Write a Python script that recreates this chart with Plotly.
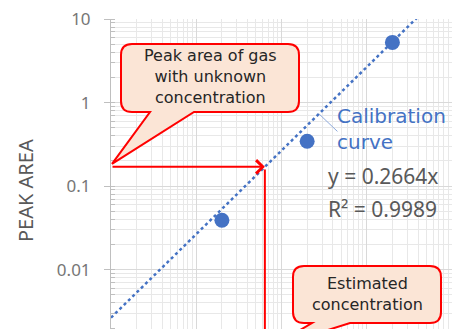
import math
import plotly.graph_objects as go

# Calibration standards (concentration vs. peak area)
concentration = [0.2, 2, 20]
peak_area = [0.039, 0.345, 5.25]

slope = 0.2664
r_squared = 0.9989

unknown_peak = 0.17
estimated_conc = unknown_peak / slope

y_tick_vals = [0.01, 0.1, 1, 10]
y_tick_text = ["0.01", "0.1", "1", "10"]

# Axis extents (log10)
x_range = [-2, 2]
y_range = [-2.71, 1]

# Figure geometry
W, H = 461, 329
M_L, M_R, M_T, M_B = 111, 9, 19, 0
PW, PH = W - M_L - M_R, H - M_T - M_B

RED = "#FF0000"
BLUE = "#4472C4"
FILL = "#FBE5D6"
FONT = "Noto Sans"
WIDE_FONT = "DejaVu Sans"


def px_to_paper(px, py):
    return (px - M_L) / PW, (H - M_B - py) / PH


def data_to_px(x, y):
    fx = (math.log10(x) - x_range[0]) / (x_range[1] - x_range[0])
    fy = (math.log10(y) - y_range[0]) / (y_range[1] - y_range[0])
    return M_L + fx * PW, H - M_B - fy * PH


def callout_path(x0, y0, x1, y1, r, b0, b1, tip):
    """Rounded box with a pointer leaving the bottom edge (pixel coords)."""
    pts = [
        ("M", [(x0 + r, y0)]),
        ("L", [(x1 - r, y0)]),
        ("Q", [(x1, y0), (x1, y0 + r)]),
        ("L", [(x1, y1 - r)]),
        ("Q", [(x1, y1), (x1 - r, y1)]),
        ("L", [(b1, y1)]),
        ("L", [tip]),
        ("L", [(b0, y1)]),
        ("L", [(x0 + r, y1)]),
        ("Q", [(x0, y1), (x0, y1 - r)]),
        ("L", [(x0, y0 + r)]),
        ("Q", [(x0, y0), (x0 + r, y0)]),
    ]
    out = []
    for cmd, coords in pts:
        s = " ".join("%.5f,%.5f" % px_to_paper(*c) for c in coords)
        out.append(cmd + s)
    return " ".join(out) + " Z"


fit_x = [10 ** x_range[0], 10 ** x_range[1]]
fit_y = [slope * v for v in fit_x]

fig = go.Figure()

# Trend line through the origin
fig.add_trace(go.Scatter(
    x=fit_x, y=fit_y, mode="lines",
    line=dict(color=BLUE, width=2.5, dash="dot"),
    hoverinfo="skip",
))

# Standards
fig.add_trace(go.Scatter(
    x=concentration, y=peak_area, mode="markers",
    marker=dict(color=BLUE, size=15),
))

# Drop line from the curve down to the concentration axis
fig.add_trace(go.Scatter(
    x=[estimated_conc, estimated_conc],
    y=[unknown_peak * 0.93, 10 ** (y_range[0] - 0.5)],
    mode="lines", line=dict(color=RED, width=2),
    hoverinfo="skip",
))

annotations = []

# Horizontal arrow from the axis to the curve
annotations.append(dict(
    x=math.log10(estimated_conc), y=math.log10(unknown_peak),
    ax=math.log10(10 ** x_range[0]), ay=math.log10(unknown_peak),
    xref="x", yref="y", axref="x", ayref="y",
    text="", showarrow=True, arrowhead=4, arrowsize=1.3,
    arrowwidth=2, arrowcolor=RED, standoff=0,
))

# Leader from the curve to its label
leader_x = 2.75
annotations.append(dict(
    x=math.log10(leader_x), y=math.log10(slope * leader_x),
    xref="x", yref="y", ax=20, ay=19,
    text="", showarrow=True, arrowhead=0, arrowwidth=1,
    arrowcolor="#8FAADC",
))


def label(text, px, py, size, color, xanchor="center", family=FONT):
    x, y = px_to_paper(px, py)
    annotations.append(dict(
        x=x, y=y, xref="paper", yref="paper", text=text, showarrow=False,
        xanchor=xanchor, yanchor="middle", align=xanchor if xanchor != "center" else "center",
        font=dict(family=family, size=size, color=color),
    ))


label("Peak area of gas<br>with unknown<br>concentration",
      210, 76.5, 16, "#262626", family=WIDE_FONT)
label("Estimated<br>concentration",
      367.5, 294, 16, "#262626", family=WIDE_FONT)
label("Calibration<br>curve", 335, 129, 20, BLUE, "left", family=WIDE_FONT)

label("y = %.4fx" % slope, 326, 175.5, 21, "#595959", "left")
label("R² = %.4f" % r_squared, 326, 209, 21, "#595959", "left")

# Y-axis title
tx, ty = px_to_paper(25, 191)
annotations.append(dict(
    x=tx, y=ty, xref="paper", yref="paper", text="PEAK AREA",
    textangle=-90, showarrow=False, xanchor="center", yanchor="middle",
    font=dict(family=FONT, size=20, color="#595959"),
))

# Callout bubbles
tip1 = data_to_px(10 ** x_range[0], unknown_peak)
tip1 = (tip1[0] + 1, tip1[1] - 3)
ex, _ = data_to_px(estimated_conc, unknown_peak)
tip2 = (ex + 3, H + 20)

shapes = [
    dict(type="path", xref="paper", yref="paper",
         path=callout_path(121, 44, 299, 112, 11, 150, 194, tip1),
         fillcolor=FILL, line=dict(color=RED, width=2), layer="above"),
    dict(type="path", xref="paper", yref="paper",
         path=callout_path(293, 266, 441, 323, 11, 312, 350, tip2),
         fillcolor=FILL, line=dict(color=RED, width=2), layer="above"),
]

fig.update_layout(
    width=W, height=H,
    margin=dict(l=M_L, r=M_R, t=M_T, b=M_B, autoexpand=False),
    paper_bgcolor="white", plot_bgcolor="white",
    showlegend=False,
    annotations=annotations,
    shapes=shapes,
    xaxis=dict(
        type="log", range=x_range, dtick=1, showticklabels=False,
        ticks="", showline=False, zeroline=False,
        gridcolor="#D9D9D9", gridwidth=1,
        minor=dict(dtick="D1", showgrid=True, gridcolor="#E8E8E8"),
        automargin=False,
    ),
    yaxis=dict(
        type="log", range=y_range,
        tickvals=y_tick_vals, ticktext=y_tick_text,
        ticks="outside", ticklen=6, tickcolor="#BFBFBF",
        ticklabelstandoff=10,
        showline=True, linecolor="#BFBFBF", linewidth=1,
        gridcolor="#D9D9D9", gridwidth=1,
        tickfont=dict(family=FONT, size=17, color="#767676"),
        minor=dict(dtick="D1", showgrid=True, gridcolor="#E8E8E8",
                   ticks="inside", ticklen=4, tickcolor="#BFBFBF"),
        automargin=False,
    ),
)

fig.write_html("out.html")
